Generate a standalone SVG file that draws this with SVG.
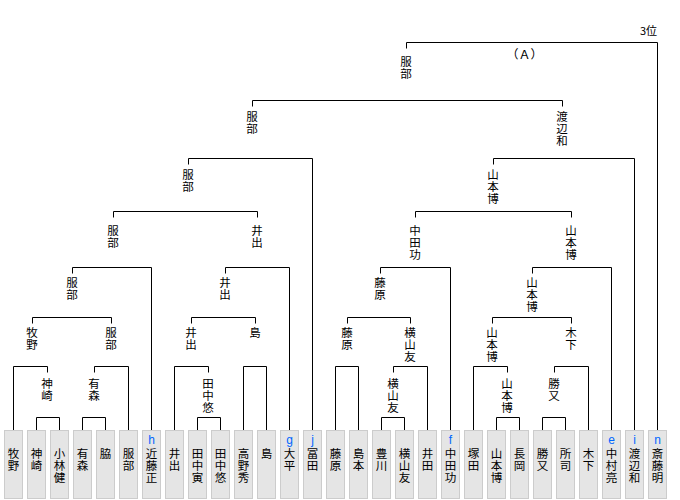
<svg xmlns="http://www.w3.org/2000/svg" width="680" height="500" viewBox="0 0 680 500">
<style>
.ln{fill:none;stroke:#000;stroke-width:1}
.t{font-family:"Noto Sans CJK JP","Noto Sans CJK SC",sans-serif;font-size:12px;fill:#000}
.v{font-family:"Noto Sans CJK JP","Noto Sans CJK SC",sans-serif;font-size:11.5px;fill:#000;writing-mode:vertical-rl;text-anchor:start;letter-spacing:0.5px}
.lf{font-family:"Noto Sans CJK JP","Noto Sans CJK SC",sans-serif;font-size:11.5px;fill:#000;writing-mode:vertical-rl;text-anchor:start;letter-spacing:0.9px}
.bx{fill:#e5e5e5;stroke:#cccccc;stroke-width:1}
.tag{font-family:"Liberation Sans","Noto Sans",sans-serif;font-size:12px;text-anchor:middle;fill:#0066ff}
</style>
<rect width="680" height="500" fill="#fff"/>
<g id="titles">
<text class="t" x="657" y="35" style="text-anchor:end;font-size:11px">3位</text>
<text class="t" x="524.5" y="58.5" style="text-anchor:middle">（Ａ）</text>
</g>
<g id="connectors">
<path class="ln" d="M406.5,48.5 V42.5 H657.5 V430"/>
<path class="ln" d="M252.5,106.5 V100.5 H562.5 V106.5"/>
<path class="ln" d="M188.5,164.5 V158.5 H312.5 V430"/>
<path class="ln" d="M493.5,164.5 V158.5 H634.5 V430"/>
<path class="ln" d="M113.5,217.5 V211.5 H257.5 V217.5"/>
<path class="ln" d="M415.5,217.5 V211.5 H571.5 V217.5"/>
<path class="ln" d="M72.5,273.5 V267.5 H151.5 V430"/>
<path class="ln" d="M225.5,273.5 V267.5 H289.5 V430"/>
<path class="ln" d="M380.5,273.5 V267.5 H450.5 V430"/>
<path class="ln" d="M532.5,273.5 V267.5 H611.5 V430"/>
<path class="ln" d="M32.5,323.5 V317.5 H111.5 V323.5"/>
<path class="ln" d="M191.5,323.5 V317.5 H255.5 V323.5"/>
<path class="ln" d="M347.5,323.5 V317.5 H410.5 V323.5"/>
<path class="ln" d="M492.5,323.5 V317.5 H571.5 V323.5"/>
<path class="ln" d="M13.5,430 V366.5 H47.5 V372.5"/>
<path class="ln" d="M94.5,372.5 V366.5 H128.5 V430"/>
<path class="ln" d="M174.5,430 V366.5 H208.5 V372.5"/>
<path class="ln" d="M243.5,430 V366.5 H266.5 V430"/>
<path class="ln" d="M335.5,430 V366.5 H358.5 V430"/>
<path class="ln" d="M393.5,372.5 V366.5 H427.5 V430"/>
<path class="ln" d="M473.5,430 V366.5 H507.5 V372.5"/>
<path class="ln" d="M554.5,372.5 V366.5 H588.5 V430"/>
<path class="ln" d="M36.5,430 V417.5 H59.5 V430"/>
<path class="ln" d="M82.5,430 V417.5 H105.5 V430"/>
<path class="ln" d="M197.5,430 V417.5 H220.5 V430"/>
<path class="ln" d="M381.5,430 V417.5 H404.5 V430"/>
<path class="ln" d="M496.5,430 V417.5 H519.5 V430"/>
<path class="ln" d="M542.5,430 V417.5 H565.5 V430"/>
</g>
<g id="n-R"><text class="v" x="406" y="56">服部</text></g>
<g id="n-A"><text class="v" x="252" y="110.75">服部</text></g>
<g id="n-B"><text class="v" x="562" y="110.75">渡辺和</text></g>
<g id="n-A1"><text class="v" x="188" y="169.25">服部</text></g>
<g id="n-B1"><text class="v" x="493" y="169.25">山本博</text></g>
<g id="n-A11"><text class="v" x="113" y="225.25">服部</text></g>
<g id="n-A12"><text class="v" x="257" y="225.25">井出</text></g>
<g id="n-B11"><text class="v" x="415" y="225.25">中田功</text></g>
<g id="n-B12"><text class="v" x="571" y="225.25">山本博</text></g>
<g id="n-A111"><text class="v" x="72" y="276.75">服部</text></g>
<g id="n-A121"><text class="v" x="225" y="276.75">井出</text></g>
<g id="n-B111"><text class="v" x="380" y="276.75">藤原</text></g>
<g id="n-B121"><text class="v" x="532" y="276.75">山本博</text></g>
<g id="n-A1111"><text class="v" x="32" y="327.25">牧野</text></g>
<g id="n-A1112"><text class="v" x="111" y="327.25">服部</text></g>
<g id="n-A1211"><text class="v" x="191" y="327.25">井出</text></g>
<g id="n-A1212"><text class="v" x="255" y="327.25">島</text></g>
<g id="n-B1111"><text class="v" x="347" y="327.25">藤原</text></g>
<g id="n-B1112"><text class="v" x="410" y="327.25">横山友</text></g>
<g id="n-B1211"><text class="v" x="492" y="327.25">山本博</text></g>
<g id="n-B1212"><text class="v" x="571" y="327.25">木下</text></g>
<g id="n-kanzaki"><text class="v" x="47" y="378.25">神崎</text></g>
<g id="n-arimori"><text class="v" x="94" y="378.25">有森</text></g>
<g id="n-tanakayu"><text class="v" x="208" y="378.25">田中悠</text></g>
<g id="n-yokoyama"><text class="v" x="393" y="378.25">横山友</text></g>
<g id="n-yamamoto"><text class="v" x="507" y="378.25">山本博</text></g>
<g id="n-katsumata"><text class="v" x="554" y="378.25">勝又</text></g>
<g id="leaf-0"><rect class="bx" x="4.5" y="430.5" width="18" height="68"/><text class="lf" x="13.5" y="447.5">牧野</text></g>
<g id="leaf-1"><rect class="bx" x="27.5" y="430.5" width="18" height="68"/><text class="lf" x="36.5" y="447.5">神崎</text></g>
<g id="leaf-2"><rect class="bx" x="50.5" y="430.5" width="18" height="68"/><text class="lf" x="59.5" y="447.5">小林健</text></g>
<g id="leaf-3"><rect class="bx" x="73.5" y="430.5" width="18" height="68"/><text class="lf" x="82.5" y="447.5">有森</text></g>
<g id="leaf-4"><rect class="bx" x="96.5" y="430.5" width="18" height="68"/><text class="lf" x="105.5" y="447.5">脇</text></g>
<g id="leaf-5"><rect class="bx" x="119.5" y="430.5" width="18" height="68"/><text class="lf" x="128.5" y="447.5">服部</text></g>
<g id="leaf-6"><rect class="bx" x="142.5" y="430.5" width="18" height="68"/><text class="tag" x="151.5" y="444">h</text><text class="lf" x="151.5" y="447.5">近藤正</text></g>
<g id="leaf-7"><rect class="bx" x="165.5" y="430.5" width="18" height="68"/><text class="lf" x="174.5" y="447.5">井出</text></g>
<g id="leaf-8"><rect class="bx" x="188.5" y="430.5" width="18" height="68"/><text class="lf" x="197.5" y="447.5">田中寅</text></g>
<g id="leaf-9"><rect class="bx" x="211.5" y="430.5" width="18" height="68"/><text class="lf" x="220.5" y="447.5">田中悠</text></g>
<g id="leaf-10"><rect class="bx" x="234.5" y="430.5" width="18" height="68"/><text class="lf" x="243.5" y="447.5">高野秀</text></g>
<g id="leaf-11"><rect class="bx" x="257.5" y="430.5" width="18" height="68"/><text class="lf" x="266.5" y="447.5">島</text></g>
<g id="leaf-12"><rect class="bx" x="280.5" y="430.5" width="18" height="68"/><text class="tag" x="289.5" y="444">g</text><text class="lf" x="289.5" y="447.5">大平</text></g>
<g id="leaf-13"><rect class="bx" x="303.5" y="430.5" width="18" height="68"/><text class="tag" x="312.5" y="444">j</text><text class="lf" x="312.5" y="447.5">冨田</text></g>
<g id="leaf-14"><rect class="bx" x="326.5" y="430.5" width="18" height="68"/><text class="lf" x="335.5" y="447.5">藤原</text></g>
<g id="leaf-15"><rect class="bx" x="349.5" y="430.5" width="18" height="68"/><text class="lf" x="358.5" y="447.5">島本</text></g>
<g id="leaf-16"><rect class="bx" x="372.5" y="430.5" width="18" height="68"/><text class="lf" x="381.5" y="447.5">豊川</text></g>
<g id="leaf-17"><rect class="bx" x="395.5" y="430.5" width="18" height="68"/><text class="lf" x="404.5" y="447.5">横山友</text></g>
<g id="leaf-18"><rect class="bx" x="418.5" y="430.5" width="18" height="68"/><text class="lf" x="427.5" y="447.5">井田</text></g>
<g id="leaf-19"><rect class="bx" x="441.5" y="430.5" width="18" height="68"/><text class="tag" x="450.5" y="444">f</text><text class="lf" x="450.5" y="447.5">中田功</text></g>
<g id="leaf-20"><rect class="bx" x="464.5" y="430.5" width="18" height="68"/><text class="lf" x="473.5" y="447.5">塚田</text></g>
<g id="leaf-21"><rect class="bx" x="487.5" y="430.5" width="18" height="68"/><text class="lf" x="496.5" y="447.5">山本博</text></g>
<g id="leaf-22"><rect class="bx" x="510.5" y="430.5" width="18" height="68"/><text class="lf" x="519.5" y="447.5">長岡</text></g>
<g id="leaf-23"><rect class="bx" x="533.5" y="430.5" width="18" height="68"/><text class="lf" x="542.5" y="447.5">勝又</text></g>
<g id="leaf-24"><rect class="bx" x="556.5" y="430.5" width="18" height="68"/><text class="lf" x="565.5" y="447.5">所司</text></g>
<g id="leaf-25"><rect class="bx" x="579.5" y="430.5" width="18" height="68"/><text class="lf" x="588.5" y="447.5">木下</text></g>
<g id="leaf-26"><rect class="bx" x="602.5" y="430.5" width="18" height="68"/><text class="tag" x="611.5" y="444">e</text><text class="lf" x="611.5" y="447.5">中村亮</text></g>
<g id="leaf-27"><rect class="bx" x="625.5" y="430.5" width="18" height="68"/><text class="tag" x="634.5" y="444">i</text><text class="lf" x="634.5" y="447.5">渡辺和</text></g>
<g id="leaf-28"><rect class="bx" x="648.5" y="430.5" width="18" height="68"/><text class="tag" x="657.5" y="444">n</text><text class="lf" x="657.5" y="447.5">斎藤明</text></g>
</svg>
